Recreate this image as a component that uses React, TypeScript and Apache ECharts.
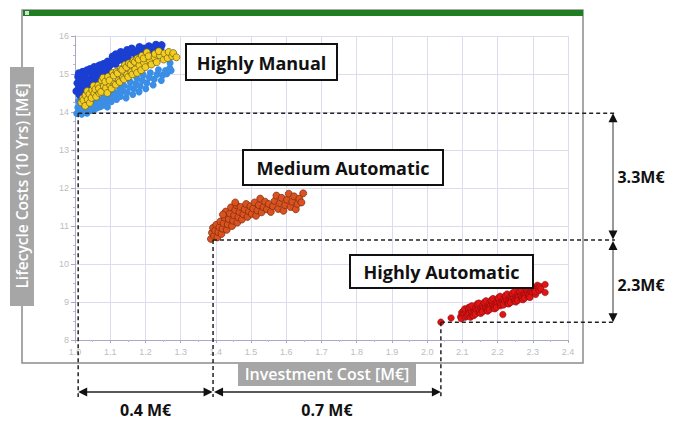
import React, { useEffect, useRef } from "react";
import * as echarts from "echarts";

// ---- data ----
const xMin = 1.0;
const xMax = 2.4;
const yMin = 8;
const yMax = 16;

const manualDark: number[][] = [
  [1.004, 14.55], [1.007, 14.76], [1.009, 14.93], [1.013, 14.45], [1.012, 14.68], [1.018, 15.0], [1.02, 14.84],
  [1.023, 14.6], [1.022, 15.06], [1.029, 14.72], [1.027, 14.99], [1.034, 15.1], [1.032, 14.64], [1.039, 14.86],
  [1.036, 15.07], [1.044, 14.8], [1.043, 15.13], [1.05, 14.94], [1.048, 15.08], [1.055, 14.86], [1.054, 15.18],
  [1.06, 15.0], [1.063, 15.15], [1.066, 14.94], [1.065, 15.2], [1.072, 15.06], [1.071, 15.23], [1.078, 15.0],
  [1.081, 15.15], [1.08, 15.26], [1.087, 15.08], [1.086, 15.27], [1.094, 15.13], [1.093, 15.33], [1.1, 15.24],
  [1.106, 15.32], [1.107, 15.46], [1.115, 15.27], [1.116, 15.52], [1.124, 15.37], [1.129, 15.45], [1.13, 15.58],
  [1.138, 15.36], [1.14, 15.51], [1.148, 15.63], [1.15, 15.45], [1.16, 15.58], [1.161, 15.67], [1.171, 15.53],
  [1.173, 15.6], [1.183, 15.71], [1.185, 15.55], [1.196, 15.67], [1.199, 15.59], [1.21, 15.73], [1.214, 15.63],
  [1.226, 15.7], [1.23, 15.77], [1.243, 15.69], [1.246, 15.76], [1.011, 15.02], [1.026, 14.5], [1.045, 14.66],
  [1.061, 14.79],
];

const manualLight: number[][] = [
  [1.005, 13.96], [1.008, 14.12], [1.01, 14.29], [1.013, 14.01], [1.014, 14.21], [1.019, 13.94], [1.022, 14.11],
  [1.023, 14.27], [1.028, 14.01], [1.031, 14.17], [1.034, 13.97], [1.037, 14.09], [1.04, 14.23], [1.044, 14.04],
  [1.046, 14.16], [1.052, 14.29], [1.056, 14.07], [1.058, 14.2], [1.064, 14.11], [1.066, 14.25], [1.072, 14.14],
  [1.074, 14.31], [1.08, 14.18], [1.082, 14.37], [1.088, 14.23], [1.092, 14.13], [1.094, 14.31], [1.101, 14.43],
  [1.103, 14.27], [1.109, 14.39], [1.112, 14.51], [1.118, 14.33], [1.12, 14.47], [1.127, 14.61], [1.129, 14.41],
  [1.136, 14.55], [1.139, 14.69], [1.145, 14.37], [1.148, 14.51], [1.155, 14.65], [1.157, 14.79], [1.164, 14.46],
  [1.167, 14.61], [1.173, 14.75], [1.176, 14.89], [1.182, 14.53], [1.185, 14.68], [1.191, 14.83], [1.194, 14.97],
  [1.201, 14.61], [1.204, 14.76], [1.211, 14.91], [1.214, 15.03], [1.222, 14.71], [1.225, 14.86], [1.233, 14.99],
  [1.237, 15.11], [1.245, 14.83], [1.249, 14.97], [1.257, 15.09], [1.261, 15.01], [1.269, 15.16], [1.273, 15.09],
  [1.27, 15.29],
];

const manualYellow: number[][] = [
  [1.018, 14.25], [1.022, 14.36], [1.024, 14.31], [1.03, 14.44], [1.029, 14.16], [1.036, 14.33], [1.035, 14.55],
  [1.042, 14.24], [1.041, 14.47], [1.049, 14.58], [1.047, 14.37], [1.055, 14.49], [1.053, 14.69], [1.06, 14.4],
  [1.058, 14.6], [1.066, 14.7], [1.069, 14.5], [1.068, 14.62], [1.076, 14.83], [1.074, 14.53], [1.082, 14.68],
  [1.08, 14.9], [1.088, 14.63], [1.086, 14.8], [1.094, 14.93], [1.092, 14.5], [1.1, 14.7], [1.098, 14.83],
  [1.107, 15.03], [1.104, 14.62], [1.112, 14.74], [1.11, 14.96], [1.118, 15.06], [1.116, 14.72], [1.124, 14.83],
  [1.121, 15.02], [1.13, 15.13], [1.127, 14.79], [1.136, 14.9], [1.134, 15.11], [1.142, 15.24], [1.139, 14.86],
  [1.148, 14.98], [1.146, 15.18], [1.153, 15.28], [1.151, 14.92], [1.16, 15.05], [1.158, 15.25], [1.166, 15.35],
  [1.163, 14.99], [1.171, 15.12], [1.17, 15.32], [1.177, 15.41], [1.176, 15.03], [1.183, 15.23], [1.181, 15.38],
  [1.19, 15.48], [1.188, 15.1], [1.196, 15.3], [1.195, 15.41], [1.204, 15.57], [1.2, 15.18], [1.212, 15.37],
  [1.209, 15.47], [1.217, 15.25], [1.226, 15.44], [1.227, 15.53], [1.232, 15.31], [1.241, 15.49], [1.238, 15.6],
  [1.252, 15.38], [1.254, 15.54], [1.263, 15.42], [1.266, 15.58], [1.276, 15.47], [1.279, 15.55], [1.288, 15.44],
];

const mediumAuto: number[][] = [
  [1.386, 10.66], [1.389, 10.82], [1.392, 10.95], [1.395, 10.74], [1.398, 10.88], [1.401, 11.03], [1.404, 10.7],
  [1.407, 10.84], [1.41, 10.97], [1.413, 11.12], [1.416, 10.79], [1.419, 10.93], [1.422, 11.07], [1.425, 11.22],
  [1.428, 11.38], [1.431, 10.9], [1.434, 11.04], [1.437, 11.18], [1.44, 11.33], [1.443, 11.49], [1.446, 11.0],
  [1.449, 11.14], [1.452, 11.28], [1.455, 11.42], [1.458, 11.55], [1.461, 11.09], [1.464, 11.23], [1.467, 11.37],
  [1.47, 11.5], [1.474, 11.17], [1.478, 11.31], [1.482, 11.44], [1.486, 11.58], [1.49, 11.24], [1.494, 11.38],
  [1.498, 11.52], [1.502, 11.32], [1.506, 11.46], [1.51, 11.62], [1.514, 11.27], [1.518, 11.41], [1.522, 11.55],
  [1.526, 11.72], [1.53, 11.36], [1.535, 11.5], [1.54, 11.64], [1.545, 11.44], [1.55, 11.58], [1.556, 11.37],
  [1.562, 11.52], [1.567, 11.66], [1.572, 11.8], [1.577, 11.45], [1.582, 11.6], [1.587, 11.74], [1.592, 11.4],
  [1.597, 11.55], [1.602, 11.69], [1.607, 11.85], [1.612, 11.5], [1.617, 11.64], [1.622, 11.78], [1.627, 11.44],
  [1.632, 11.58], [1.637, 11.72], [1.643, 11.62], [1.648, 11.86], [1.455, 11.62], [1.42, 11.3],
];

const highAuto: number[][] = [
  [2.039, 8.47], [2.068, 8.58], [2.095, 8.61], [2.098, 8.72], [2.1, 8.65], [2.103, 8.77], [2.097, 8.56], [2.105, 8.69],
  [2.108, 8.6], [2.11, 8.74], [2.113, 8.63], [2.107, 8.82], [2.116, 8.67], [2.118, 8.79], [2.12, 8.71], [2.123, 8.6],
  [2.117, 8.85], [2.126, 8.75], [2.128, 8.65], [2.121, 8.87], [2.13, 8.69], [2.133, 8.81], [2.127, 8.9], [2.136, 8.74],
  [2.138, 8.85], [2.132, 8.64], [2.14, 8.78], [2.143, 8.91], [2.137, 8.68], [2.146, 8.82], [2.148, 8.72], [2.142, 8.95],
  [2.15, 8.76], [2.153, 8.87], [2.147, 8.97], [2.156, 8.8], [2.158, 8.91], [2.152, 8.7], [2.16, 8.84], [2.163, 8.95],
  [2.157, 8.74], [2.166, 8.88], [2.168, 8.78], [2.162, 8.99], [2.17, 8.82], [2.173, 8.93], [2.167, 9.03], [2.176, 8.86],
  [2.178, 8.97], [2.172, 8.76], [2.18, 8.9], [2.183, 9.01], [2.177, 8.8], [2.186, 8.94], [2.188, 8.84], [2.182, 9.05],
  [2.19, 8.88], [2.193, 8.99], [2.187, 9.09], [2.196, 8.92], [2.198, 9.03], [2.192, 8.82], [2.2, 8.96], [2.203, 9.07],
  [2.197, 8.86], [2.206, 9.0], [2.208, 8.9], [2.202, 9.11], [2.21, 8.94], [2.213, 9.05], [2.207, 9.15], [2.216, 8.98],
  [2.218, 9.09], [2.215, 8.67], [2.22, 9.02], [2.223, 9.13], [2.217, 8.92], [2.226, 9.06], [2.228, 8.96], [2.222, 9.17],
  [2.23, 9.0], [2.233, 9.1], [2.227, 9.21], [2.236, 9.04], [2.238, 9.15], [2.232, 8.95], [2.24, 9.08], [2.243, 9.19],
  [2.237, 8.99], [2.246, 9.12], [2.248, 9.02], [2.242, 9.23], [2.25, 9.06], [2.253, 9.16], [2.247, 9.27], [2.256, 9.1],
  [2.258, 9.21], [2.252, 9.0], [2.26, 9.14], [2.263, 9.25], [2.257, 9.04], [2.266, 9.18], [2.268, 9.08], [2.262, 9.29],
  [2.27, 9.12], [2.273, 9.22], [2.267, 9.33], [2.276, 9.16], [2.278, 9.27], [2.272, 9.06], [2.28, 9.2], [2.283, 9.31],
  [2.277, 9.1], [2.286, 9.24], [2.288, 9.14], [2.282, 9.35], [2.29, 9.18], [2.293, 9.28], [2.287, 9.38], [2.296, 9.22],
  [2.298, 9.33], [2.292, 9.12], [2.3, 9.26], [2.303, 9.37], [2.297, 9.42], [2.306, 9.3], [2.308, 9.2], [2.31, 9.34],
  [2.313, 9.44], [2.307, 9.27], [2.316, 9.38], [2.318, 9.3], [2.32, 9.41], [2.323, 9.35], [2.335, 9.46], [2.335, 9.25],
];

// lower-left corners of the three clusters (x, y)
const cornerManual = [1.009, 13.97];
const cornerMedium = [1.392, 10.63];
const cornerHigh = [2.039, 8.47];

const clusterNames = ["Highly Manual", "Medium Automatic", "Highly Automatic"];
const deltaXLabels = ["0.4 M€", "0.7 M€"];
const deltaYLabels = ["3.3M€", "2.3M€"];

const xAxisTitle = "Investment Cost [M€]";
const yAxisTitle = "Lifecycle Costs (10 Yrs) [M€]";

export default function App() {
  const ref = useRef<HTMLDivElement>(null);

  useEffect(() => {
    if (!ref.current) return;
    const chart = echarts.init(ref.current, null, { renderer: "svg" });
    const scatter = (data: number[][], color: string, border: string, bw: number, size: number) => ({
      type: "scatter",
      data,
      symbolSize: size,
      itemStyle: { color, borderColor: border, borderWidth: bw, opacity: 1 },
      z: 3,
    });
    chart.setOption({
      animation: false,
      backgroundColor: "#ffffff",
      grid: { left: 75, top: 36, width: 493, height: 304, containLabel: false },
      xAxis: {
        type: "value",
        min: xMin,
        max: xMax,
        interval: 0.1,
        axisLine: { show: true, lineStyle: { color: "#a9a9c9", width: 1 } },
        axisTick: { show: true, length: 3, lineStyle: { color: "#a9a9c9" } },
        minorTick: { show: true, splitNumber: 2, length: 2, lineStyle: { color: "#b9b9d0" } },
        splitLine: { show: true, lineStyle: { color: "#dcdcef", width: 1 } },
        axisLabel: {
          color: "#bdbdbd",
          fontSize: 9,
          margin: 7,
          fontFamily: "Liberation Sans",
          formatter: (v: number) => v.toFixed(1),
        },
      },
      yAxis: {
        type: "value",
        min: yMin,
        max: yMax,
        interval: 1,
        axisLine: { show: true, lineStyle: { color: "#a9a9c9", width: 1 } },
        axisTick: { show: true, length: 4, lineStyle: { color: "#a9a9c9" } },
        minorTick: { show: true, splitNumber: 4, length: 2, lineStyle: { color: "#b9b9d0" } },
        splitLine: { show: true, lineStyle: { color: "#dcdcef", width: 1 } },
        axisLabel: { color: "#bdbdbd", fontSize: 9, margin: 6, fontFamily: "Liberation Sans" },
      },
      series: [
        scatter(manualLight, "#3b8ee6", "#3b8ee6", 0, 7),
        scatter(manualDark, "#1b3ed2", "#1b3ed2", 0, 8),
        scatter(manualYellow, "#f2cd22", "#6b5a12", 0.7, 7),
        scatter(mediumAuto, "#d9521f", "#7a2a0c", 0.7, 7),
        scatter(highAuto, "#e01414", "#7a0a0a", 0.5, 6.5),
      ],
    });

    const px = (p: number[]) => chart.convertToPixel({ seriesIndex: 0 }, p) as number[];
    const [mx, my] = px(cornerManual);
    const [dx, dy] = px(cornerMedium);
    const [hx, hy] = px(cornerHigh);

    const dashRight = 615;
    const dashBottom = 397;
    const arrowY = 392;
    const arrowX = 613;
    const dash = { stroke: "#222", lineWidth: 1.5, lineDash: [4, 3] };

    const hLine = (x: number, y: number) => ({ type: "line", z: 20, shape: { x1: x, y1: y, x2: dashRight, y2: y }, style: dash });
    const vLine = (x: number, y: number) => ({ type: "line", z: 20, shape: { x1: x, y1: y, x2: x, y2: dashBottom }, style: dash });
    const tri = (pts: number[][]) => ({ type: "polygon", z: 21, shape: { points: pts }, style: { fill: "#111" } });
    const hArrow = (x1: number, x2: number) => [
      { type: "line", z: 21, shape: { x1: x1 + 2, y1: arrowY, x2: x2 - 2, y2: arrowY }, style: { stroke: "#222", lineWidth: 1.5 } },
      tri([[x1, arrowY], [x1 + 9, arrowY - 4.5], [x1 + 9, arrowY + 4.5]]),
      tri([[x2, arrowY], [x2 - 9, arrowY - 4.5], [x2 - 9, arrowY + 4.5]]),
    ];
    const vArrow = (y1: number, y2: number) => [
      { type: "line", z: 21, shape: { x1: arrowX, y1: y1 + 2, x2: arrowX, y2: y2 - 2 }, style: { stroke: "#777", lineWidth: 1.5 } },
      tri([[arrowX, y1], [arrowX - 4.5, y1 + 9], [arrowX + 4.5, y1 + 9]]),
      tri([[arrowX, y2], [arrowX - 4.5, y2 - 9], [arrowX + 4.5, y2 - 9]]),
    ];
    const boxLabel = (text: string, x: number, y: number, w: number, h: number) => [
      { type: "rect", z: 22, shape: { x, y, width: w, height: h }, style: { fill: "#fff", stroke: "#111", lineWidth: 2 } },
      {
        type: "text", z: 23, x: x + w / 2, y: y + h / 2 + 0.5,
        style: { text, fill: "#111", font: "bold 18px 'Open Sans'", align: "center", verticalAlign: "middle" },
      },
    ];
    const dimText = (text: string, x: number, y: number) => ({
      type: "text", z: 23, x, y,
      style: { text, fill: "#111", font: "bold 16px 'Open Sans'", align: "center", verticalAlign: "middle" },
    });

    chart.setOption({
      graphic: [
        // window frame
        { type: "rect", z: 1, shape: { x: 22, y: 10, width: 561, height: 353 }, style: { fill: "none", stroke: "#8c8c8c", lineWidth: 1.5 } },
        { type: "rect", z: 2, shape: { x: 23, y: 10, width: 560, height: 6 }, style: { fill: "#1f7d22" } },
        { type: "rect", z: 3, shape: { x: 25, y: 11, width: 4, height: 4 }, style: { fill: "#cfe3cf" } },
        // axis titles
        { type: "rect", z: 5, shape: { x: 10, y: 67, width: 24, height: 239 }, style: { fill: "#a6a6a6" } },
        {
          type: "text", z: 6, x: 22, y: 186, rotation: Math.PI / 2,
          style: { text: yAxisTitle, fill: "#fff", font: "600 15.5px 'Open Sans'", align: "center", verticalAlign: "middle" },
        },
        { type: "rect", z: 5, shape: { x: 238, y: 362, width: 178, height: 24 }, style: { fill: "#a6a6a6" } },
        {
          type: "text", z: 6, x: 327, y: 374,
          style: { text: xAxisTitle, fill: "#fff", font: "600 16px 'Open Sans'", align: "center", verticalAlign: "middle" },
        },
        // dashed guides
        hLine(mx, my), vLine(mx, my),
        hLine(dx, dy), vLine(dx, dy),
        hLine(hx, hy), vLine(hx, hy),
        // arrows
        ...hArrow(mx, dx - 0.5),
        ...hArrow(dx + 1, hx),
        ...vArrow(my, dy - 0.5),
        ...vArrow(dy + 1, hy),
        dimText(deltaXLabels[0], (mx + dx) / 2, 410),
        dimText(deltaXLabels[1], (dx + hx) / 2, 410),
        dimText(deltaYLabels[0], 641, (my + dy) / 2),
        dimText(deltaYLabels[1], 641, (dy + hy) / 2 + 4),
        // cluster labels
        ...boxLabel(clusterNames[0], 186, 44, 151, 36),
        ...boxLabel(clusterNames[1], 243, 150, 200, 35),
        ...boxLabel(clusterNames[2], 350, 255, 183, 33),
      ],
    });

    return () => chart.dispose();
  }, []);

  return (
    <div
      ref={ref}
      style={{ position: "absolute", left: 0, top: 0, width: 683, height: 421, background: "#fff" }}
    />
  );
}
